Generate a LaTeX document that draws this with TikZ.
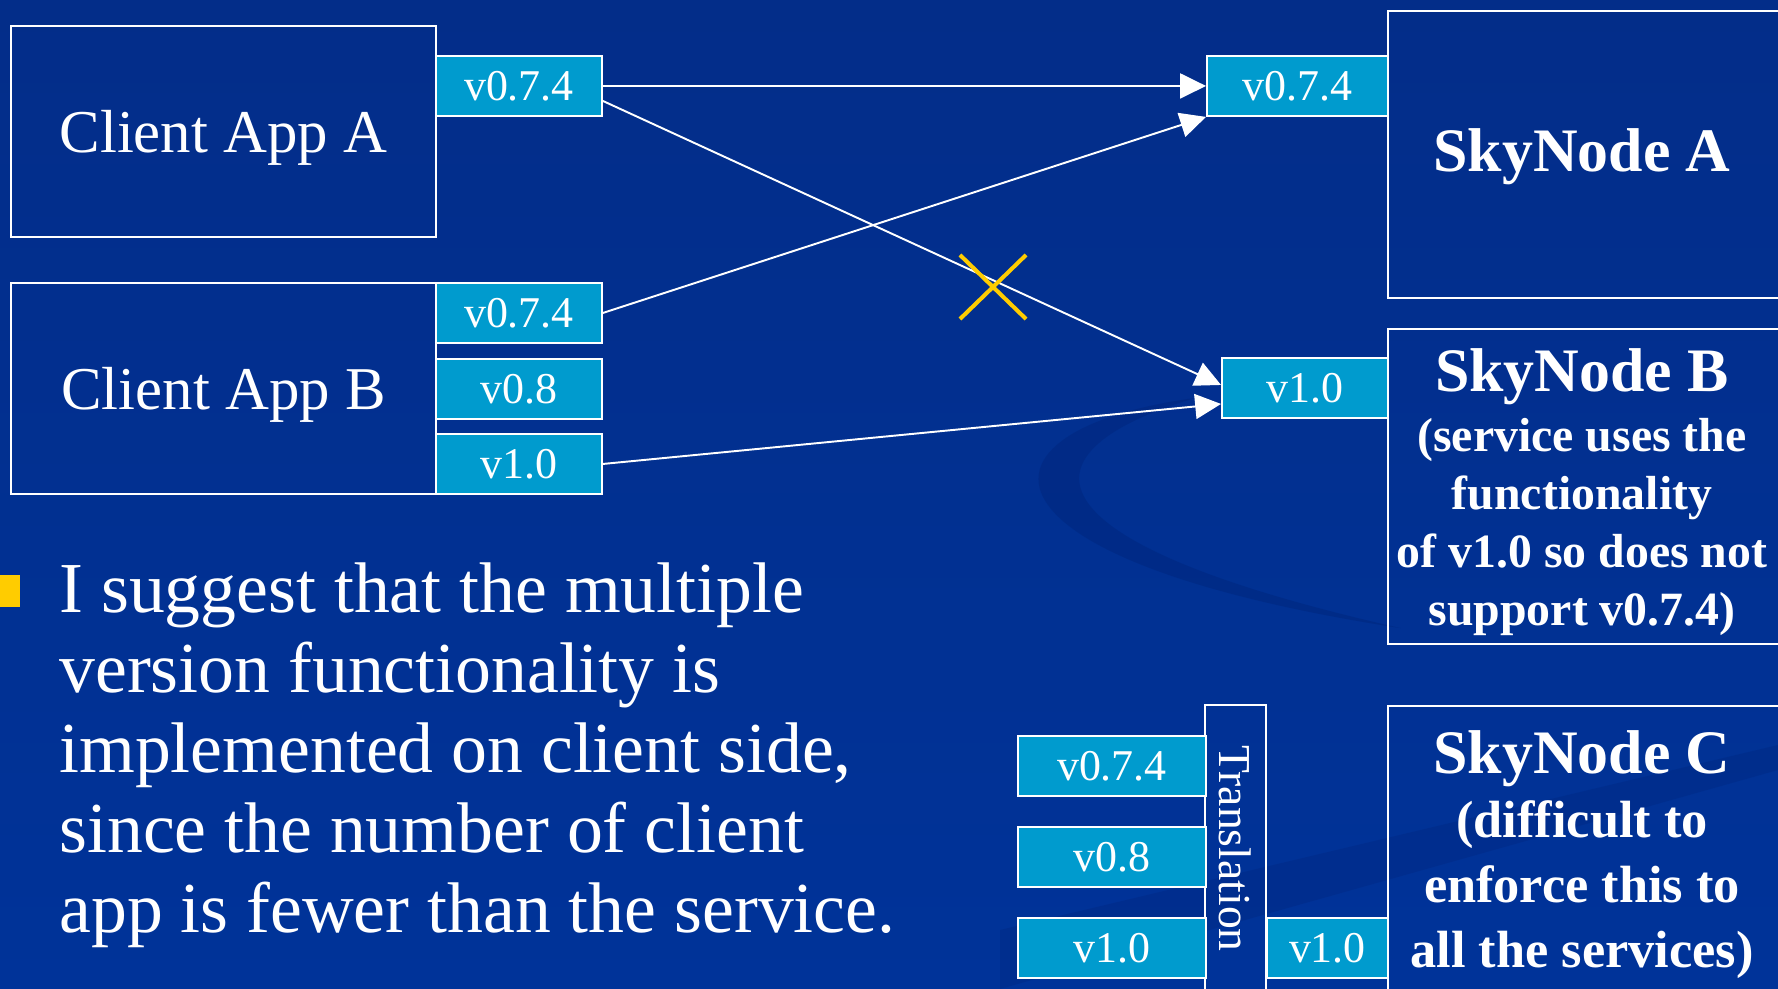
\documentclass[tikz,border=0pt]{standalone}
\usepackage{fontspec}
\setmainfont{Liberation Serif}
\usetikzlibrary{arrows.meta,positioning,shapes.misc}
\definecolor{slidetop}{RGB}{3,45,137}
\definecolor{slideblue}{RGB}{0,51,153}
\definecolor{swirlblue}{RGB}{0,36,122}
\definecolor{tagcyan}{RGB}{0,155,206}
\definecolor{markyellow}{RGB}{255,204,0}
\newcommand{\bulletfont}{\fontsize{40.8}{45.4}\selectfont}
\newcommand{\appfont}{\fontsize{34.6}{40}\selectfont}
\newcommand{\tagfont}{\fontsize{25}{30}\selectfont}
\newcommand{\skyfont}{\fontsize{35.2}{40}\selectfont\bfseries}
\newcommand{\notefont}[2]{\fontsize{#1}{#2}\selectfont\bfseries}
\tikzset{
  appbox/.style={draw=white, line width=1.1pt, text=white, font=\appfont, text depth=0pt,
    minimum width=8.5cm, minimum height=4.23cm, anchor=north west, inner sep=0pt},
  vtag/.style={draw=white, fill=tagcyan, line width=1.1pt, text=white, font=\tagfont,
    minimum height=1.2cm, anchor=north west, inner sep=0pt},
  skybox/.style={draw=white, line width=1.1pt, minimum width=8.06cm, anchor=north west, inner sep=0pt},
  skytext/.style={text=white, align=center, anchor=base, inner sep=0pt},
  link/.style={white, line width=1.1pt, -{Triangle[length=14.7pt,width=14.2pt]}},
}

\begin{document}
\begin{tikzpicture}[x=0.02cm, y=-0.02cm]
  \useasboundingbox (0,0) rectangle (1778,989);
  \shade[top color=slidetop, bottom color=slideblue] (0,0) rectangle (1778,989);
  % faint swirls of the slide background
  \fill[swirlblue, opacity=0.45] (1195,398) .. controls (960,430) and (960,560) .. (1400,628)
    .. controls (1010,540) and (1020,450) .. (1195,398) -- cycle;
  \fill[swirlblue, opacity=0.3] (1000,930) -- (1778,745) -- (1778,770) -- (1000,989) -- cycle;

  \node[appbox] (appA) at (10,25) {Client App A};
  \node[appbox] (appB) at (10,282) {Client App B};
  \node[vtag, minimum width=3.32cm] (appAv074) at (435,55) {v0.7.4};
  \node[vtag, minimum width=3.32cm] (appBv074) at (435,282) {v0.7.4};
  \node[vtag, minimum width=3.32cm] (appBv08) at (435,358) {v0.8};
  \node[vtag, minimum width=3.32cm] (appBv10) at (435,433) {v1.0};

  \node[skybox, minimum height=5.74cm] (skyA) at (1387,10) {};
  \node[skybox, minimum height=6.3cm] (skyB) at (1387,328) {};
  \node[skybox, minimum height=5.9cm] (skyC) at (1387,705) {};
  \node[vtag, minimum width=3.62cm] (skyAv074) at (1206,55) {v0.7.4};
  \node[vtag, minimum width=3.32cm] (skyBv10) at (1221,357) {v1.0};

  % multi-line notes sit on the baseline of their last line
  \node[skytext, font=\skyfont] (skyAname) at (1582,172) {SkyNode A};
  \node[skytext, font=\skyfont] (skyBname) at (1582,392) {SkyNode B};
  \node[skytext, font=\notefont{27.2}{32.9}] (skyBnote) at (1582,625)
    {(service uses the\\functionality\\of v1.0 so does not\\support v0.7.4)};
  \node[skytext, font=\skyfont] (skyCname) at (1582,773) {SkyNode C};
  \node[skytext, font=\notefont{29.8}{36.8}] (skyCnote) at (1582,967)
    {(difficult to\\enforce this to\\all the services)};

  \node[draw=white, line width=1.1pt, text=white, font=\fontsize{26}{30}\selectfont,
    rotate=-90, minimum width=5.74cm, minimum height=1.22cm, inner sep=0pt] (transl) at (1235.5,848.5) {Translation};
  \node[vtag, minimum width=3.76cm] (trv074) at (1017,735) {v0.7.4};
  \node[vtag, minimum width=3.76cm] (trv08) at (1017,826) {v0.8};
  \node[vtag, minimum width=3.76cm] (trv10) at (1017,917) {v1.0};
  \node[vtag, minimum width=2.42cm] (skyCv10) at (1266,917) {v1.0};

  \draw[link] (appAv074.east) -- (skyAv074.west);
  \draw[link] ([yshift=-0.3cm]appAv074.east) -- ([yshift=0.06cm]skyBv10.west);
  \draw[link] (appBv074.east) -- (skyAv074.south west);
  \draw[link] (appBv10.east) -- ([yshift=-0.32cm]skyBv10.west);
  \node[cross out, draw=markyellow, line width=2.3pt, minimum width=1.24cm, minimum height=1.2cm] (block) at (993,287) {};

  \fill[markyellow] (-12,575) rectangle (20,607);
  \node[anchor=base west, align=left, text=white, font=\bulletfont, inner sep=0pt] (suggestion) at (59,932)
    {I suggest that the multiple\\version functionality is\\implemented on client side,\\since the number of client\\app is fewer than the service.};
\end{tikzpicture}
\end{document}
